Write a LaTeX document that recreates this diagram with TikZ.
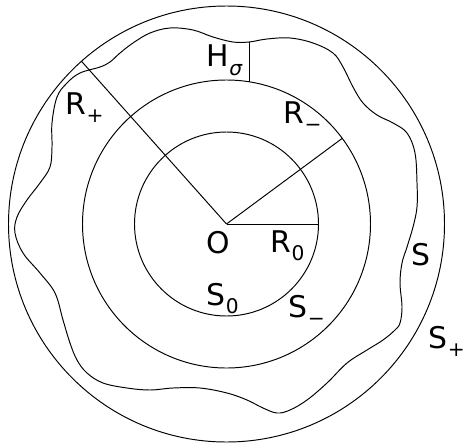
\documentclass[tikz,border=0pt]{standalone}
\usepackage{fontspec}
\setmainfont{DejaVu Sans}
\usetikzlibrary{calc}
\newcommand{\lowsub}[1]{\raisebox{-5pt}{\fontsize{11.5}{12}\selectfont #1}}

\begin{document}
\begin{tikzpicture}[x=0.02cm, y=0.02cm,
    circ/.style={line width=0.55pt},
    lbl/.style={anchor=base west, inner sep=0pt, font=\fontsize{17}{20}\selectfont}
]
\useasboundingbox (-226.5,-219) rectangle (238.5,224);
\coordinate (O) at (0,0);
\draw[circ] (O) circle (92);
\draw[circ] (O) circle (144);
\draw[circ] (O) circle (218);
\draw[circ] plot[smooth cycle, tension=0.6] coordinates {
    (22.5,182) (40.5,185) (63.5,186) (86.5,181) (106.5,171) (116.5,157)
    (126.5,137) (136.5,121) (150.5,109) (166.5,101) (180.5,91) (188.5,71)
    (190.5,41) (190.5,17) (186.5,-3) (180.5,-23) (175.5,-39) (173.5,-59)
    (175.5,-83) (173.5,-99) (168.5,-106) (156.5,-116) (140.5,-126) (120.5,-139)
    (100.5,-159) (80.5,-176) (63.5,-186) (50.5,-189) (36.5,-184) (20.5,-176)
    (0.5,-169) (-26.5,-164) (-53.5,-164) (-76.5,-166) (-99.5,-164) (-123.5,-159)
    (-139.5,-149) (-149.5,-136) (-156.5,-119) (-163.5,-96) (-171.5,-69) (-186.5,-49)
    (-203.5,-29) (-211.5,-9) (-209.5,7) (-199.5,24) (-186.5,41) (-176.5,57)
    (-174.5,77) (-174.5,101) (-169.5,127) (-159.5,141) (-146.5,151) (-126.5,157)
    (-116.5,162) (-106.5,171) (-93.5,181) (-76.5,191) (-56.5,196) (-33.5,194)
    (-13.5,187) (6.5,182)};
\coordinate (r0) at (0:92);
\coordinate (rm) at (36.5:144);
\coordinate (rp) at (131.7:218);
\coordinate (hb) at (22.5,142.2);
\coordinate (ht) at (22.5,182);
\draw[circ] (O) -- (r0);
\draw[circ] (O) -- (rm);
\draw[circ] (O) -- (rp);
\draw[circ] (hb) -- (ht);

\node[lbl] (o) at (-20,-29) {O};
\node[lbl] (rzero) at (44,-28) {R\lowsub{0}};
\node[lbl] (rminus) at (57,101) {R\lowsub{−}};
\node[lbl] (rplus) at (-161,110) {R\lowsub{+}};
\node[lbl] (hsig) at (-20,157) {H\lowsub{\textit{σ}}};
\node[lbl] (szero) at (-20,-81) {S\lowsub{0}};
\node[lbl] (sminus) at (62,-93) {S\lowsub{−}};
\node[lbl] (s) at (185,-41) {S};
\node[lbl] (splus) at (202,-124) {S\lowsub{+}};
\end{tikzpicture}
\end{document}
